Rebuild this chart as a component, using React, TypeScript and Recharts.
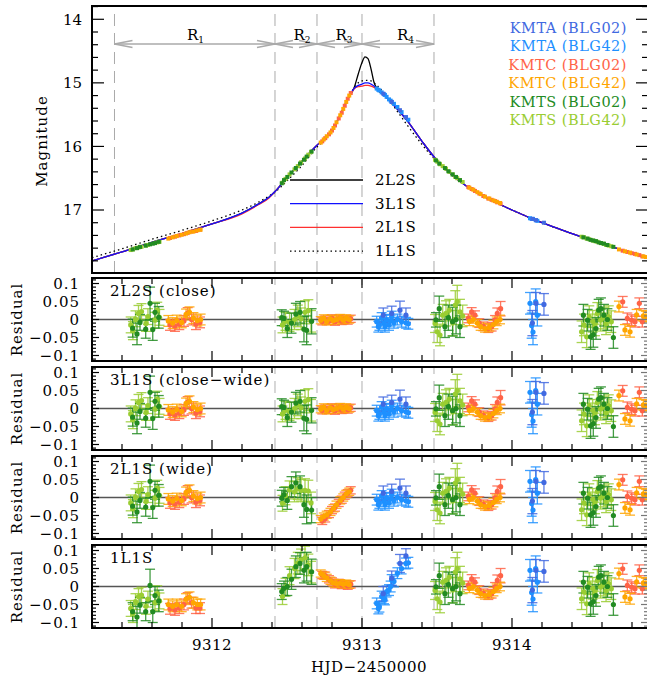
import React from "react";
import { ComposedChart, Line, Scatter, XAxis, YAxis, ErrorBar, ReferenceLine } from "recharts";

const FONT = "DejaVu Serif";

// plot box (page px)
const PLOT_LEFT = 92;
const PLOT_RIGHT = 648;
const CHART_W = 648;
const TOP_H = 267;
const RES_H = 83;
const RES_PAD = 8;
const RES_TOPS = [278, 367, 456, 545];

const T_MIN = 9311.2;
const T_MAX = 9314.9067;
const X_TICKS = [9311.4, 9311.6, 9311.8, 9312, 9312.2, 9312.4, 9312.6, 9312.8, 9313, 9313.2, 9313.4, 9313.6, 9313.8, 9314, 9314.2, 9314.4, 9314.6, 9314.8];
const X_MAJOR = [9312, 9313, 9314];

const MAG_DOMAIN = [13.791, 17.991];
const MAG_TICKS = [13.8, 14, 14.2, 14.4, 14.6, 14.8, 15, 15.2, 15.4, 15.6, 15.8, 16, 16.2, 16.4, 16.6, 16.8, 17, 17.2, 17.4, 17.6, 17.8];
const MAG_MAJOR = [14, 15, 16, 17];

const RES_DOMAIN = [-0.1153, 0.1153];
const RES_TICKS = [-0.11, -0.1, -0.09, -0.08, -0.07, -0.06, -0.05, -0.04, -0.03, -0.02, -0.01, 0, 0.01, 0.02, 0.03, 0.04, 0.05, 0.06, 0.07, 0.08, 0.09, 0.1, 0.11];
const RES_MAJOR = [-0.1, -0.05, 0, 0.05, 0.1];

const REGION_EDGES = [9311.35, 9312.42, 9312.7, 9313.0, 9313.48];
const REGION_NAMES = ["1", "2", "3", "4"];
const REGION_LABEL_T = [9311.89, 9312.6, 9312.88, 9313.29];
const REGION_LABEL_MAG = 14.33;
const ARROW_MAG = 14.39;

// model light curves
const MODEL_T = [9311.2, 9311.4, 9311.6, 9311.8, 9312.0, 9312.2, 9312.3, 9312.38, 9312.42, 9312.5, 9312.6, 9312.7, 9312.75, 9312.8, 9312.85, 9312.9, 9312.95, 9312.975, 9313.0, 9313.02, 9313.04, 9313.06, 9313.08, 9313.1, 9313.15, 9313.2, 9313.3, 9313.4, 9313.5, 9313.6, 9313.7, 9313.8, 9313.9, 9314.0, 9314.2, 9314.4, 9314.6, 9314.8, 9314.91];
const MAG_2L2S = [17.80, 17.66, 17.51, 17.37, 17.22, 17.05, 16.92, 16.80, 16.71, 16.49, 16.23, 15.98, 15.88, 15.75, 15.53, 15.28, 15.06, 14.86, 14.68, 14.59, 14.62, 14.78, 14.99, 15.09, 15.20, 15.32, 15.59, 15.92, 16.22, 16.45, 16.63, 16.77, 16.89, 17.00, 17.20, 17.37, 17.53, 17.68, 17.77];
const MAG_3L1S = [17.80, 17.66, 17.51, 17.37, 17.22, 17.05, 16.92, 16.80, 16.71, 16.49, 16.23, 15.98, 15.88, 15.75, 15.53, 15.28, 15.08, 15.04, 15.02, 15.00, 15.00, 15.02, 15.05, 15.09, 15.20, 15.32, 15.59, 15.92, 16.22, 16.45, 16.63, 16.77, 16.89, 17.00, 17.20, 17.37, 17.53, 17.68, 17.77];
const MAG_2L1S = [17.80, 17.66, 17.51, 17.37, 17.22, 17.06, 16.93, 16.81, 16.71, 16.49, 16.23, 15.98, 15.88, 15.75, 15.53, 15.28, 15.09, 15.06, 15.05, 15.04, 15.04, 15.05, 15.07, 15.10, 15.20, 15.32, 15.59, 15.92, 16.22, 16.45, 16.63, 16.77, 16.89, 17.00, 17.20, 17.37, 17.53, 17.68, 17.77];
const MAG_1L1S = [17.75, 17.61, 17.46, 17.32, 17.17, 17.00, 16.89, 16.78, 16.72, 16.54, 16.30, 16.01, 15.90, 15.76, 15.54, 15.28, 15.07, 15.00, 14.97, 14.96, 14.96, 14.97, 15.00, 15.04, 15.17, 15.33, 15.66, 15.97, 16.24, 16.45, 16.63, 16.77, 16.89, 17.00, 17.20, 17.37, 17.53, 17.68, 17.77];

// observations: [HJD, mag, err, res 2L2S, res 3L1S, res 2L1S, res 1L1S]
const KMTA_BLG02 = [
  [9313.142, 15.17, 0.020, 0.012, 0.012, 0.012, -0.020],
  [9313.198, 15.30, 0.020, 0.017, 0.017, 0.017, 0.023],
  [9313.253, 15.43, 0.025, 0.026, 0.026, 0.026, 0.064],
  [9313.293, 15.54, 0.020, 0.012, 0.012, 0.012, 0.085],
  [9314.136, 17.14, 0.035, -0.010, -0.010, -0.010, -0.010],
  [9314.160, 17.16, 0.030, 0.045, 0.045, 0.045, 0.045],
  [9314.213, 17.20, 0.030, 0.042, 0.042, 0.042, 0.042],
];
const KMTA_BLG42 = [
  [9313.098, 15.09, 0.015, -0.006, -0.006, -0.006, -0.047],
  [9313.109, 15.11, 0.015, -0.020, -0.020, -0.020, -0.061],
  [9313.116, 15.12, 0.015, -0.015, -0.015, -0.015, -0.056],
  [9313.131, 15.15, 0.015, 0.004, 0.004, 0.004, -0.028],
  [9313.147, 15.18, 0.015, -0.010, -0.010, -0.010, -0.033],
  [9313.153, 15.19, 0.015, -0.020, -0.020, -0.020, -0.036],
  [9313.164, 15.22, 0.015, -0.001, -0.001, -0.001, -0.014],
  [9313.180, 15.26, 0.015, -0.015, -0.015, -0.015, -0.010],
  [9313.191, 15.28, 0.015, -0.003, -0.003, -0.003, 0.000],
  [9313.198, 15.30, 0.015, 0.008, 0.008, 0.008, 0.018],
  [9313.213, 15.33, 0.015, -0.009, -0.009, -0.009, 0.014],
  [9313.236, 15.38, 0.015, 0.000, 0.000, 0.000, 0.037],
  [9313.264, 15.46, 0.015, -0.006, -0.006, -0.006, 0.050],
  [9313.293, 15.54, 0.015, -0.009, -0.009, -0.009, 0.064],
  [9313.309, 15.58, 0.015, -0.012, -0.012, -0.012, 0.066],
  [9314.120, 17.13, 0.030, 0.045, 0.045, 0.045, 0.045],
  [9314.131, 17.14, 0.035, -0.017, -0.017, -0.017, -0.017],
  [9314.140, 17.14, 0.035, -0.035, -0.035, -0.035, -0.035],
  [9314.158, 17.16, 0.035, 0.050, 0.050, 0.050, 0.050],
  [9314.169, 17.17, 0.030, 0.012, 0.012, 0.012, 0.012],
];
const KMTC_BLG02 = [
  [9311.720, 17.44, 0.015, -0.015, -0.015, -0.015, -0.062],
  [9311.753, 17.42, 0.015, -0.018, -0.018, -0.018, -0.065],
  [9311.782, 17.40, 0.015, -0.013, -0.013, -0.013, -0.060],
  [9311.813, 17.38, 0.015, -0.004, -0.004, -0.004, -0.050],
  [9311.838, 17.36, 0.015, 0.018, 0.018, 0.018, -0.032],
  [9311.864, 17.34, 0.015, 0.000, 0.000, 0.000, -0.045],
  [9311.893, 17.33, 0.015, -0.013, -0.013, -0.013, -0.060],
  [9311.920, 17.31, 0.015, -0.008, -0.008, -0.008, -0.060],
  [9312.735, 15.92, 0.010, -0.005, -0.005, -0.065, 0.032],
  [9312.755, 15.87, 0.010, 0.000, 0.000, -0.058, 0.030],
  [9312.780, 15.81, 0.010, -0.004, -0.004, -0.046, 0.020],
  [9312.800, 15.75, 0.010, 0.003, 0.003, -0.035, 0.014],
  [9312.820, 15.67, 0.010, -0.006, -0.006, -0.028, 0.006],
  [9312.845, 15.56, 0.010, 0.002, 0.002, -0.015, 0.010],
  [9312.865, 15.47, 0.010, -0.004, -0.004, -0.006, 0.004],
  [9312.885, 15.36, 0.010, 0.000, 0.000, 0.005, 0.006],
  [9312.905, 15.25, 0.010, -0.003, -0.003, 0.012, 0.002],
  [9312.925, 15.16, 0.010, 0.002, 0.002, 0.020, 0.006],
  [9313.709, 16.64, 0.012, 0.003, 0.003, 0.003, 0.003],
  [9313.731, 16.67, 0.012, 0.021, 0.021, 0.021, 0.021],
  [9313.753, 16.70, 0.012, 0.012, 0.012, 0.012, 0.012],
  [9313.782, 16.74, 0.012, -0.010, -0.010, -0.010, -0.010],
  [9313.809, 16.78, 0.012, -0.019, -0.019, -0.019, -0.019],
  [9313.842, 16.82, 0.012, -0.024, -0.024, -0.024, -0.024],
  [9313.864, 16.84, 0.012, -0.020, -0.020, -0.020, -0.020],
  [9313.887, 16.86, 0.012, -0.001, -0.001, -0.001, -0.001],
  [9313.902, 16.88, 0.015, 0.017, 0.017, 0.017, 0.017],
  [9313.924, 16.90, 0.020, 0.030, 0.030, 0.030, 0.030],
  [9314.738, 17.64, 0.015, 0.049, 0.049, 0.049, 0.049],
  [9314.769, 17.66, 0.015, 0.003, 0.003, 0.003, 0.003],
  [9314.798, 17.68, 0.015, -0.002, -0.002, -0.002, -0.002],
  [9314.820, 17.69, 0.015, -0.006, -0.006, -0.006, -0.006],
  [9314.849, 17.71, 0.015, 0.045, 0.045, 0.045, 0.045],
  [9314.869, 17.73, 0.015, -0.006, -0.006, -0.006, -0.006],
];
const KMTC_BLG42 = [
  [9311.709, 17.45, 0.015, -0.004, -0.004, -0.004, -0.050],
  [9311.738, 17.43, 0.015, -0.010, -0.010, -0.010, -0.055],
  [9311.765, 17.41, 0.015, -0.003, -0.003, -0.003, -0.050],
  [9311.798, 17.39, 0.015, -0.008, -0.008, -0.008, -0.055],
  [9311.827, 17.37, 0.015, 0.014, 0.014, 0.014, -0.035],
  [9311.850, 17.35, 0.015, 0.020, 0.020, 0.020, -0.030],
  [9311.876, 17.34, 0.015, 0.004, 0.004, 0.004, -0.045],
  [9311.902, 17.32, 0.015, -0.003, -0.003, -0.003, -0.050],
  [9311.924, 17.31, 0.015, 0.000, 0.000, 0.000, -0.050],
  [9312.725, 15.94, 0.010, -0.002, -0.002, -0.060, 0.036],
  [9312.745, 15.89, 0.010, 0.003, 0.003, -0.053, 0.030],
  [9312.765, 15.84, 0.010, -0.005, -0.005, -0.048, 0.024],
  [9312.790, 15.78, 0.010, 0.002, 0.002, -0.040, 0.016],
  [9312.810, 15.71, 0.010, -0.003, -0.003, -0.030, 0.010],
  [9312.830, 15.62, 0.010, 0.000, 0.000, -0.020, 0.008],
  [9312.855, 15.51, 0.010, 0.004, 0.004, -0.008, 0.009],
  [9312.875, 15.41, 0.010, -0.002, -0.002, 0.000, 0.006],
  [9312.895, 15.30, 0.010, 0.003, 0.003, 0.010, 0.008],
  [9312.915, 15.20, 0.010, 0.000, 0.000, 0.016, 0.005],
  [9313.716, 16.65, 0.012, -0.005, -0.005, -0.005, -0.005],
  [9313.742, 16.68, 0.010, 0.000, 0.000, 0.000, 0.000],
  [9313.769, 16.72, 0.010, -0.010, -0.010, -0.010, -0.010],
  [9313.791, 16.75, 0.010, -0.020, -0.020, -0.020, -0.020],
  [9313.820, 16.79, 0.010, -0.025, -0.025, -0.025, -0.025],
  [9313.849, 16.82, 0.010, -0.022, -0.022, -0.022, -0.022],
  [9313.876, 16.85, 0.012, -0.014, -0.014, -0.014, -0.014],
  [9313.898, 16.87, 0.012, -0.005, -0.005, -0.005, -0.005],
  [9313.920, 16.89, 0.012, 0.000, 0.000, 0.000, 0.000],
  [9314.713, 17.62, 0.015, 0.036, 0.036, 0.036, 0.036],
  [9314.753, 17.65, 0.015, -0.029, -0.029, -0.029, -0.029],
  [9314.787, 17.67, 0.015, -0.034, -0.034, -0.034, -0.034],
  [9314.831, 17.70, 0.015, 0.013, 0.013, 0.013, 0.013],
  [9314.876, 17.73, 0.015, 0.010, 0.010, 0.010, 0.010],
  [9314.893, 17.74, 0.015, 0.008, 0.008, 0.008, 0.008],
];
const KMTS_BLG02 = [
  [9311.471, 17.62, 0.025, -0.024, -0.024, -0.024, -0.070],
  [9311.500, 17.60, 0.030, -0.040, -0.040, -0.040, -0.085],
  [9311.520, 17.58, 0.022, -0.008, -0.008, -0.008, -0.052],
  [9311.558, 17.56, 0.025, -0.027, -0.027, -0.027, -0.070],
  [9311.587, 17.54, 0.045, 0.045, 0.045, 0.045, 0.003],
  [9311.605, 17.53, 0.030, -0.028, -0.028, -0.028, -0.070],
  [9311.620, 17.52, 0.025, 0.020, 0.020, 0.020, -0.025],
  [9311.645, 17.50, 0.030, 0.006, 0.006, 0.006, -0.040],
  [9312.465, 16.58, 0.022, 0.005, 0.005, -0.002, -0.014],
  [9312.480, 16.53, 0.020, 0.003, 0.003, 0.008, -0.005],
  [9312.502, 16.48, 0.025, -0.025, -0.025, -0.008, 0.000],
  [9312.530, 16.41, 0.028, -0.010, -0.010, 0.030, 0.020],
  [9312.559, 16.34, 0.030, 0.015, 0.015, 0.041, 0.055],
  [9312.587, 16.27, 0.030, 0.020, 0.020, 0.030, 0.064],
  [9312.613, 16.21, 0.035, -0.027, -0.027, -0.020, 0.045],
  [9312.631, 16.16, 0.040, -0.030, -0.030, -0.033, 0.055],
  [9312.664, 16.08, 0.035, -0.005, -0.005, -0.035, 0.041],
  [9313.493, 16.22, 0.020, -0.001, -0.001, -0.001, -0.001],
  [9313.515, 16.27, 0.035, 0.030, 0.030, 0.030, 0.030],
  [9313.553, 16.34, 0.030, -0.020, -0.020, -0.020, -0.020],
  [9313.576, 16.39, 0.035, 0.005, 0.005, 0.005, 0.005],
  [9313.604, 16.44, 0.040, -0.006, -0.006, -0.006, -0.006],
  [9313.627, 16.48, 0.040, 0.000, 0.000, 0.000, 0.000],
  [9313.653, 16.53, 0.030, -0.020, -0.020, -0.020, -0.020],
  [9314.476, 17.43, 0.030, 0.012, 0.012, 0.012, 0.012],
  [9314.504, 17.45, 0.030, -0.002, -0.002, -0.002, -0.002],
  [9314.524, 17.47, 0.035, -0.048, -0.048, -0.048, -0.048],
  [9314.542, 17.48, 0.035, -0.042, -0.042, -0.042, -0.042],
  [9314.560, 17.49, 0.030, -0.025, -0.025, -0.025, -0.025],
  [9314.578, 17.51, 0.030, 0.026, 0.026, 0.026, 0.026],
  [9314.593, 17.52, 0.030, 0.030, 0.030, 0.030, 0.030],
  [9314.613, 17.53, 0.030, 0.012, 0.012, 0.012, 0.012],
  [9314.636, 17.55, 0.030, 0.000, 0.000, 0.000, 0.000],
  [9314.676, 17.58, 0.030, -0.050, -0.050, -0.050, -0.050],
];
const KMTS_BLG42 = [
  [9311.458, 17.63, 0.022, -0.015, -0.015, -0.015, -0.061],
  [9311.473, 17.62, 0.025, -0.031, -0.031, -0.031, -0.075],
  [9311.490, 17.60, 0.022, 0.002, 0.002, 0.002, -0.042],
  [9311.510, 17.59, 0.022, 0.017, 0.017, 0.017, -0.028],
  [9311.530, 17.58, 0.022, 0.022, 0.022, 0.022, -0.024],
  [9311.560, 17.56, 0.022, -0.011, -0.011, -0.011, -0.055],
  [9311.573, 17.55, 0.022, 0.008, 0.008, 0.008, -0.035],
  [9311.620, 17.52, 0.022, -0.002, -0.002, -0.002, -0.045],
  [9311.635, 17.51, 0.022, 0.026, 0.026, 0.026, -0.020],
  [9311.650, 17.50, 0.022, 0.006, 0.006, 0.006, -0.040],
  [9312.470, 16.57, 0.022, -0.015, -0.015, -0.016, -0.028],
  [9312.490, 16.51, 0.025, -0.005, -0.005, 0.005, -0.002],
  [9312.517, 16.44, 0.025, -0.008, -0.008, 0.021, 0.030],
  [9312.550, 16.36, 0.028, 0.000, 0.000, 0.016, 0.050],
  [9312.572, 16.31, 0.030, 0.010, 0.010, 0.025, 0.065],
  [9312.594, 16.25, 0.030, 0.002, 0.002, 0.020, 0.074],
  [9312.620, 16.19, 0.032, 0.020, 0.020, 0.020, 0.080],
  [9312.642, 16.13, 0.030, 0.025, 0.025, 0.018, 0.060],
  [9312.660, 16.09, 0.030, -0.005, -0.005, -0.015, 0.040],
  [9313.487, 16.21, 0.025, -0.011, -0.011, -0.011, -0.011],
  [9313.502, 16.24, 0.030, -0.034, -0.034, -0.034, -0.034],
  [9313.520, 16.28, 0.030, -0.043, -0.043, -0.043, -0.043],
  [9313.538, 16.31, 0.030, 0.012, 0.012, 0.012, 0.012],
  [9313.560, 16.35, 0.035, 0.017, 0.017, 0.017, 0.017],
  [9313.582, 16.40, 0.030, 0.026, 0.026, 0.026, 0.026],
  [9313.605, 16.44, 0.035, -0.010, -0.010, -0.010, -0.010],
  [9313.622, 16.48, 0.040, 0.040, 0.040, 0.040, 0.040],
  [9313.635, 16.50, 0.045, 0.050, 0.050, 0.050, 0.050],
  [9313.653, 16.53, 0.035, 0.021, 0.021, 0.021, 0.021],
  [9313.671, 16.56, 0.030, 0.010, 0.010, 0.010, 0.010],
  [9314.464, 17.42, 0.030, -0.034, -0.034, -0.034, -0.034],
  [9314.480, 17.43, 0.030, -0.015, -0.015, -0.015, -0.015],
  [9314.498, 17.45, 0.030, -0.048, -0.048, -0.048, -0.048],
  [9314.515, 17.46, 0.030, 0.008, 0.008, 0.008, 0.008],
  [9314.538, 17.48, 0.030, -0.005, -0.005, -0.005, -0.005],
  [9314.553, 17.49, 0.030, -0.015, -0.015, -0.015, -0.015],
  [9314.569, 17.50, 0.030, 0.017, 0.017, 0.017, 0.017],
  [9314.591, 17.52, 0.030, -0.002, -0.002, -0.002, -0.002],
  [9314.609, 17.53, 0.030, 0.004, 0.004, 0.004, 0.004],
  [9314.627, 17.55, 0.030, -0.012, -0.012, -0.012, -0.012],
  [9314.645, 17.56, 0.030, 0.008, 0.008, 0.008, 0.008],
  [9314.662, 17.57, 0.030, -0.006, -0.006, -0.006, -0.006],
];

const DATASETS = [
  { name: "KMTA (BLG02)", color: "#4169e1", rows: KMTA_BLG02 },
  { name: "KMTA (BLG42)", color: "#1e90ff", rows: KMTA_BLG42 },
  { name: "KMTC (BLG02)", color: "#ff6347", rows: KMTC_BLG02 },
  { name: "KMTC (BLG42)", color: "#ffa500", rows: KMTC_BLG42 },
  { name: "KMTS (BLG02)", color: "#228b22", rows: KMTS_BLG02 },
  { name: "KMTS (BLG42)", color: "#9acd32", rows: KMTS_BLG42 },
];
const DRAW_ORDER = [5, 4, 2, 3, 1, 0];

const MODELS = [
  { name: "2L2S", mags: MAG_2L2S, color: "#000000", dash: undefined },
  { name: "3L1S", mags: MAG_3L1S, color: "#1010ff", dash: undefined },
  { name: "2L1S", mags: MAG_2L1S, color: "#ff3030", dash: undefined },
  { name: "1L1S", mags: MAG_1L1S, color: "#000000", dash: "1.5 3" },
];
const MODEL_DRAW_ORDER = [3, 0, 2, 1];
const PANEL_LABELS = ["2L2S (close)", "3L1S (close\u2212wide)", "2L1S (wide)", "1L1S"];

const fmtRes = (v: number) => (v === 0 ? "0" : (v < 0 ? "\u2212" : "") + String(Math.abs(v)));

function XTick(props: any) {
  const { x, payload, top, bottom, showLabel } = props;
  const major = X_MAJOR.includes(payload.value);
  const len = major ? 10 : 6;
  return (
    <g>
      <line x1={x} x2={x} y1={bottom} y2={bottom - len} stroke="#000" strokeWidth={1.2} />
      <line x1={x} x2={x} y1={top} y2={top + len} stroke="#000" strokeWidth={1.2} />
      {showLabel && major && (
        <text x={x} y={bottom + 22} textAnchor="middle" fontFamily={FONT} fontSize={15} letterSpacing={0.5} fill="#000">
          {payload.value}
        </text>
      )}
    </g>
  );
}

function YTick(props: any) {
  const { y, payload, majors, long, short, fmt, gap, spacing, rightColor } = props;
  const v = payload.value;
  const major = majors.includes(v);
  const len = major ? long : short;
  return (
    <g>
      <line x1={PLOT_LEFT} x2={PLOT_LEFT + len} y1={y} y2={y} stroke="#000" strokeWidth={1.2} />
      <line x1={PLOT_RIGHT} x2={PLOT_RIGHT - len} y1={y} y2={y} stroke={rightColor} strokeWidth={1.2} />
      {major && (
        <text x={PLOT_LEFT - gap} y={y} dy="0.36em" textAnchor="end" fontFamily={FONT} fontSize={15} letterSpacing={spacing} fill="#000">
          {fmt(v)}
        </text>
      )}
    </g>
  );
}

function RegionLabel(props: any) {
  const { cx, cy, payload } = props;
  return (
    <text x={cx} y={cy} textAnchor="middle" fontFamily={FONT} fontSize={15} fill="#000">
      R<tspan fontSize={9} dy={3}>{payload.n}</tspan>
    </text>
  );
}

function TopPanel() {
  const regionLabels = REGION_NAMES.map((n, i) => ({ t: REGION_LABEL_T[i], y: REGION_LABEL_MAG, n }));
  const arrowHeads: any[] = [];
  for (let i = 0; i < REGION_EDGES.length - 1; i++) {
    const a = REGION_EDGES[i];
    const b = REGION_EDGES[i + 1];
    arrowHeads.push([a, a + 0.12, 0.055], [a, a + 0.12, -0.055], [b, b - 0.12, 0.055], [b, b - 0.12, -0.055]);
  }
  return (
    <div style={{ position: "absolute", left: 0, top: 0 }}>
      <ComposedChart width={CHART_W} height={275} margin={{ top: 6, right: 0, bottom: 2, left: 0 }}>
        <XAxis type="number" dataKey="t" domain={[T_MIN, T_MAX]} allowDataOverflow ticks={X_TICKS} interval={0}
          tickSize={0} tickMargin={0} tickLine={false} axisLine={false} height={0}
          tick={(p: any) => <XTick {...p} top={6} bottom={6 + TOP_H} showLabel={false} />} />
        <YAxis type="number" domain={MAG_DOMAIN} reversed allowDataOverflow ticks={MAG_TICKS} interval={0} width={PLOT_LEFT}
          tickSize={0} tickMargin={0} tickLine={false} axisLine={false}
          tick={(p: any) => <YTick {...p} majors={MAG_MAJOR} long={12} short={6} fmt={String} gap={10} spacing={0} rightColor="#000" />} />
        {REGION_EDGES.map((e) => (
          <ReferenceLine key={"d" + e} x={e} stroke="#aaaaaa" strokeWidth={1} strokeDasharray="12 7" />
        ))}
        <ReferenceLine segment={[{ x: REGION_EDGES[0], y: ARROW_MAG }, { x: REGION_EDGES[REGION_EDGES.length - 1], y: ARROW_MAG }]}
          stroke="#aaaaaa" strokeWidth={1.5} />
        {arrowHeads.map((h, i) => (
          <ReferenceLine key={"h" + i} segment={[{ x: h[0], y: ARROW_MAG }, { x: h[1], y: ARROW_MAG + h[2] }]} stroke="#aaaaaa" strokeWidth={1.5} />
        ))}
        {MODEL_DRAW_ORDER.map((mi) => {
          const m = MODELS[mi];
          const data = MODEL_T.map((t, i) => ({ t, y: m.mags[i] }));
          return (
            <Line key={m.name} data={data} dataKey="y" type="monotone" dot={false} stroke={m.color} strokeWidth={1.3}
              strokeDasharray={m.dash} isAnimationActive={false} />
          );
        })}
        {DRAW_ORDER.map((di) => {
          const d = DATASETS[di];
          const data = d.rows.map((r) => ({ t: r[0], y: r[1] }));
          return (
            <Scatter key={d.name} data={data} dataKey="y" isAnimationActive={false}
              shape={(p: any) => <rect x={p.cx - 2} y={p.cy - 2} width={4} height={4} fill={d.color} />} />
          );
        })}
        <Scatter data={regionLabels} dataKey="y" isAnimationActive={false} shape={(p: any) => <RegionLabel {...p} />} />
      </ComposedChart>
    </div>
  );
}

function ResidualPanel({ k }: { k: number }) {
  const last = k === RES_TOPS.length - 1;
  const axisH = last ? 47 : RES_PAD;
  return (
    <div style={{ position: "absolute", left: 0, top: RES_TOPS[k] - RES_PAD }}>
      <ComposedChart width={CHART_W} height={RES_PAD + RES_H + axisH} margin={{ top: RES_PAD, right: 0, bottom: 0, left: 0 }}>
        <XAxis type="number" dataKey="t" domain={[T_MIN, T_MAX]} allowDataOverflow ticks={X_TICKS} interval={0}
          tickSize={0} tickMargin={0} tickLine={false} axisLine={false} height={axisH}
          tick={(p: any) => <XTick {...p} top={RES_PAD} bottom={RES_PAD + RES_H} showLabel={last} />} />
        <YAxis type="number" domain={RES_DOMAIN} allowDataOverflow ticks={RES_TICKS} interval={0} width={PLOT_LEFT}
          tickSize={0} tickMargin={0} tickLine={false} axisLine={false}
          tick={(p: any) => <YTick {...p} majors={RES_MAJOR} long={7} short={4} fmt={fmtRes} gap={12} spacing={1} rightColor="#777" />} />
        {REGION_EDGES.slice(1).map((e) => (
          <ReferenceLine key={"d" + e} x={e} stroke="#b0b0b0" strokeWidth={1} strokeDasharray="12 7" />
        ))}
        <ReferenceLine y={0} stroke="#555555" strokeWidth={1.6} />
        {DRAW_ORDER.map((di) => {
          const d = DATASETS[di];
          const data = d.rows.map((r) => ({ t: r[0], y: r[3 + k], e: r[2] }));
          return (
            <Scatter key={d.name} data={data} dataKey="y" isAnimationActive={false}
              shape={(p: any) => <circle cx={p.cx} cy={p.cy} r={2.6} fill={d.color} />}>
              <ErrorBar dataKey="e" direction="y" width={5} stroke={d.color} strokeWidth={1.3} strokeOpacity={0.85} isAnimationActive={false} />
            </Scatter>
          );
        })}
      </ComposedChart>
    </div>
  );
}

function Overlay() {
  const frames = [{ y: 6, h: TOP_H }, ...RES_TOPS.map((y) => ({ y, h: RES_H }))];
  return (
    <svg width={647} height={675} style={{ position: "absolute", left: 0, top: 0, pointerEvents: "none" }}>
      {frames.map((f, i) => (
        <rect key={i} x={PLOT_LEFT} y={f.y} width={PLOT_RIGHT - PLOT_LEFT} height={f.h} fill="none" stroke="#000" strokeWidth={2} />
      ))}
      <text transform="translate(47,141) rotate(-90)" textAnchor="middle" fontFamily={FONT} fontSize={15} letterSpacing={1}>Magnitude</text>
      {RES_TOPS.map((y, i) => (
        <g key={"r" + i}>
          <text transform={`translate(22,${y + RES_H / 2}) rotate(-90)`} textAnchor="middle" fontFamily={FONT} fontSize={15} letterSpacing={1}>Residual</text>
          <text x={110} y={y + 18} fontFamily={FONT} fontSize={15} letterSpacing={1}>{PANEL_LABELS[i]}</text>
        </g>
      ))}
      <text x={369} y={672} textAnchor="middle" fontFamily={FONT} fontSize={15} letterSpacing={0.5}>HJD{"\u2212"}2450000</text>
      {DATASETS.map((d, i) => (
        <text key={d.name} x={627} y={33 + i * 18.4} textAnchor="end" fontFamily={FONT} fontSize={14.5} letterSpacing={0.5} fill={d.color}>
          {d.name}
        </text>
      ))}
      {MODELS.map((m, i) => (
        <g key={m.name}>
          <line x1={290} x2={363} y1={180 + i * 23.7} y2={180 + i * 23.7} stroke={m.color} strokeWidth={1.3} strokeDasharray={m.dash} />
          <text x={375} y={185 + i * 23.7} fontFamily={FONT} fontSize={15} letterSpacing={0.5}>{m.name}</text>
        </g>
      ))}
    </svg>
  );
}

export default function App() {
  return (
    <div style={{ position: "absolute", left: 0, top: 0, width: 647, height: 675, overflow: "hidden", background: "#fff" }}>
      <TopPanel />
      {RES_TOPS.map((_, k) => (
        <ResidualPanel key={k} k={k} />
      ))}
      <Overlay />
    </div>
  );
}
